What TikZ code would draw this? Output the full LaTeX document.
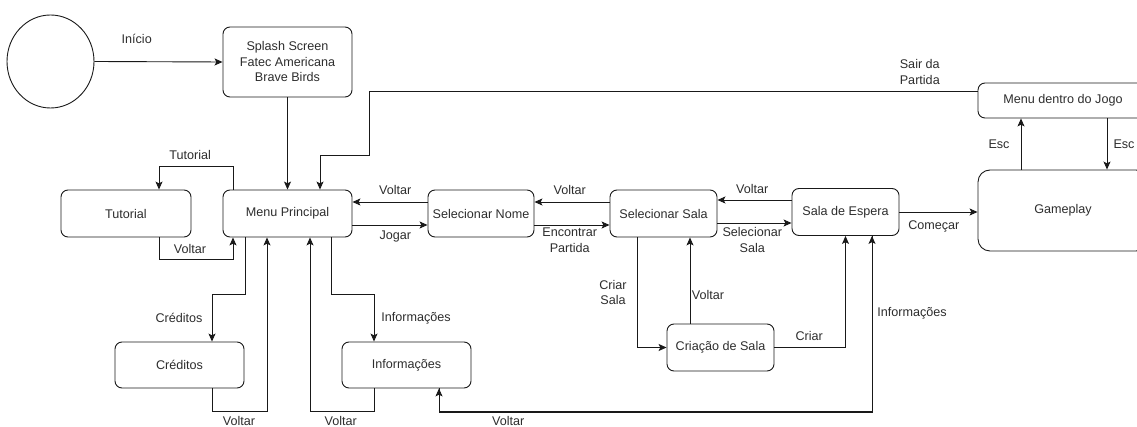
\documentclass[tikz,border=0pt]{standalone}
\usepackage{fontspec}
\setmainfont{Liberation Sans}
\usetikzlibrary{arrows.meta,shapes.geometric}
\definecolor{cLine}{RGB}{25,25,25}
\definecolor{cText}{RGB}{45,45,45}

\begin{document}
\begin{tikzpicture}[
  x=1pt, y=-1pt,
  %% ── screen box ────────────────────────────────────────────────────────
  B/.style={
    draw=cLine, rounded corners=7pt, line width=0.9pt,
    minimum width=129pt, minimum height=47pt,
    align=center, font=\fontsize{12.6}{15.5}\selectfont, text=cText, inner sep=2pt
  },
  %% ── transition arrow ──────────────────────────────────────────────────
  A/.style={-{Stealth[length=8pt,width=7pt,inset=1.8pt]}, line width=0.9pt, draw=cLine},
  %% ── transition label ──────────────────────────────────────────────────
  L/.style={font=\fontsize{12.6}{15.5}\selectfont, text=cText, inner sep=0.5pt, align=center},
]
\useasboundingbox (0,0) rectangle (1137,427);

%% ═══════════════════════════════════════════════════════════════════════
%%  SCREENS
%% ═══════════════════════════════════════════════════════════════════════

\node[draw=cLine, line width=0.9pt, ellipse, minimum width=87pt, minimum height=93pt] (start) at (50.5,61.5) {};

\node[B, minimum height=70pt] (splash) at (287.5,62)
  {Splash Screen\\Fatec Americana\\Brave Birds};

\node[B] (menu)     at (287.5,213.5) {Menu Principal};
\node[B, minimum width=130pt] (tutorial) at (126,213.5) {Tutorial};
\node[B, minimum width=106pt] (selnome)  at (481,213.5) {Selecionar Nome};
\node[B, minimum width=107pt] (selsala)  at (663.5,213.5) {Selecionar Sala};
\node[B, minimum width=107pt] (espera)   at (845.5,212) {Sala de Espera};
\node[B, minimum width=107pt] (criacao)  at (720.5,347.5) {Criação de Sala};
\node[B, minimum height=46pt] (creditos) at (179.5,365) {Créditos};
\node[B, minimum height=46pt] (info)     at (406.5,365) {Informações};

\node[B, minimum width=170pt, minimum height=35pt] (menujogo) at (1063,100.5) {Menu dentro do Jogo};
\node[B, minimum width=170pt, minimum height=81pt, rounded corners=12pt] (gameplay) at (1063,210.5) {Gameplay};

%% ═══════════════════════════════════════════════════════════════════════
%%  TRANSITIONS
%% ═══════════════════════════════════════════════════════════════════════

\draw[A] (start.east) -- node[L, pos=0.33, yshift=23]{Início} (splash.west);
\draw[A] (splash) -- (menu);

%% menu <-> tutorial
\draw[A] ([xshift=-54.5]menu.north) -- ++(0,-23)
  -| node[L, pos=0.29, yshift=12]{Tutorial} ([xshift=33]tutorial.north);
\draw[A] ([xshift=33]tutorial.south) -- ++(0,22)
  -| node[L, pos=0.21, yshift=10]{Voltar} ([xshift=-54.5]menu.south);

%% menu <-> créditos / informações
\draw[A] ([xshift=-42.5]menu.south) -- ++(0,57)
  -| node[L, pos=0.75, xshift=-33]{Créditos} ([xshift=32.5]creditos.north);
\draw[A] ([xshift=32.5]creditos.south) -- ++(0,23)
  -| node[L, pos=0.245, yshift=-9.5]{Voltar} ([xshift=-20.5]menu.south);
\draw[A] ([xshift=43.5]menu.south) -- ++(0,57)
  -| node[L, pos=0.75, xshift=42]{Informações} ([xshift=-32.5]info.north);
\draw[A] ([xshift=-32.5]info.south) -- ++(0,23)
  -| node[L, pos=0.26, yshift=-9.5]{Voltar} ([xshift=22.5]menu.south);

%% main row
\draw[A] ([yshift=11.5]selnome.west) -- node[L, pos=0.43, yshift=12]{Voltar} ([yshift=11.5]menu.east);
\draw[A] ([yshift=-11.5]menu.east) -- node[L, pos=0.57, yshift=-11]{Jogar} ([yshift=-11.5]selnome.west);
\draw[A] ([yshift=11.5]selsala.west) -- node[L, pos=0.53, yshift=12]{Voltar} ([yshift=11.5]selnome.east);
\draw[A] ([yshift=-11.5]selnome.east) -- node[L, pos=0.47, yshift=-15]{Encontrar\\Partida} ([yshift=-11.5]selsala.west);
\draw[A] ([yshift=12]espera.west) -- node[L, pos=0.53, yshift=11]{Voltar} ([yshift=12]espera.west -| selsala.east);
\draw[A] ([yshift=-11]espera.west -| selsala.east) -- node[L, pos=0.47, yshift=-17]{Selecionar\\Sala} ([yshift=-11]espera.west);
\draw[A] (espera.east) -- node[L, pos=0.44, yshift=-14]{Começar} (espera.east -| gameplay.west);

%% room creation
\draw[A] ([xshift=-26.5]selsala.south) |- node[L, pos=0.25, xshift=-24]{Criar\\Sala} (criacao.west);
\draw[A] ([xshift=-30.5]criacao.north) -- node[L, pos=0.33, xshift=18]{Voltar} ([xshift=-30.5]criacao.north |- selsala.south);
\draw[A] (criacao.east) -| node[L, pos=0.245, yshift=12]{Criar} (espera.south);

%% waiting room <-> informações
\draw[A] ([xshift=32.5]info.south) -- ++(0,23)
  -| node[L, pos=0.78, xshift=40]{Informações} ([xshift=26.5]espera.south);
\draw[A] ([xshift=26.5]espera.south) -- ++(0,176)
  -| node[L, pos=0.42, yshift=-9.5]{Voltar} ([xshift=32.5]info.south);

%% in-game menu
\draw[A] ([yshift=9.5]menujogo.west) -- node[L, pos=0.095, yshift=19]{Sair da\\Partida} ++(-608,0)
  -- ++(0,64) -| ([xshift=32.5]menu.north);
\draw[A] ([xshift=-42]gameplay.north) -- node[L, midway, xshift=-22]{Esc} ([xshift=-42]menujogo.south);
\draw[A] ([xshift=44]menujogo.south) -- node[L, midway, xshift=17]{Esc} ([xshift=44]gameplay.north);

\end{tikzpicture}
\end{document}
